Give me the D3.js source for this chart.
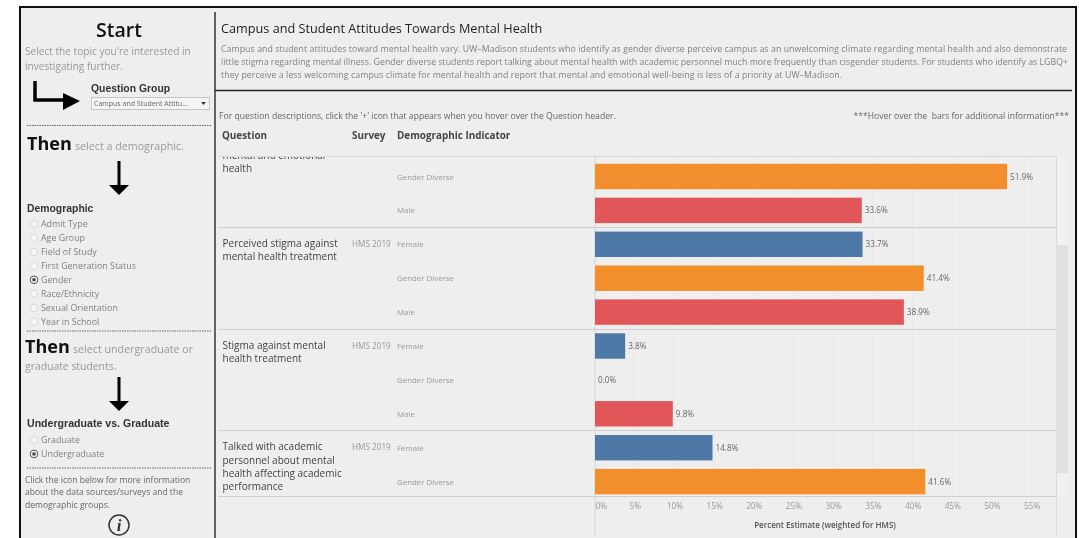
<!DOCTYPE html>
<html>
<head>
<meta charset="utf-8">
<script src="https://cdn.jsdelivr.net/npm/d3@7"></script>
<style>
  html, body { margin: 0; padding: 0; background: #fff; overflow: hidden; }
  text { font-family: "Open Sans", sans-serif; }
  svg { filter: blur(0.35px); }
</style>
</head>
<body>
<div id="chart"></div>
<script>
// Chart data
const rowKeys = ["r0", "r1", "r2", "r3", "r4", "r5", "r6", "r7", "r8", "r9"];
const indicators = ["Gender Diverse", "Male", "Female", "Gender Diverse", "Male", "Female", "Gender Diverse", "Male", "Female", "Gender Diverse"];
const percentValues = [51.9, 33.6, 33.7, 41.4, 38.9, 3.8, 0.0, 9.8, 14.8, 41.6];
const axisTicks = [0, 5, 10, 15, 20, 25, 30, 35, 40, 45, 50, 55];
const indicatorColors = { "Female": "#4e79a7", "Gender Diverse": "#f28e2b", "Male": "#e15759" };

// Question groups, firstRow is the index of the row each group starts on
const questionNames = [
    ["mental and emotional", "health"],
    ["Perceived stigma against", "mental health treatment"],
    ["Stigma against mental", "health treatment"],
    ["Talked with academic", "personnel about mental", "health affecting academic", "performance"]
];
const questionSurveys = ["", "HMS 2019", "HMS 2019", "HMS 2019"];
const questionFirstRows = [0, 2, 5, 8];

const demographicOptions = ["Admit Type", "Age Group", "Field of Study", "First Generation Status", "Gender", "Race/Ethnicity", "Sexual Orientation", "Year in School"];
const studentOptions = ["Graduate", "Undergraduate"];
const introLines = [
    "Campus and student attitudes toward mental health vary. UW\u2013Madison students who identify as gender diverse perceive campus as an unwelcoming climate regarding mental health and also demonstrate",
    "little stigma regarding mental illness. Gender diverse students report talking about mental health with academic personnel much more frequently than cisgender students. For students who identify as LGBQ+",
    "they perceive a less welcoming campus climate for mental health and report that mental and emotional well-being is less of a priority at UW\u2013Madison."
];
const introWidths = [846, 847, 621];

const width = 1079;
const height = 538;

const svg = d3.select("#chart")
    .append("svg")
    .attr("width", width)
    .attr("height", height)
    .style("display", "block");

// Dashboard background and frame
svg.append("rect")
    .attr("x", 20).attr("y", 7)
    .attr("width", 1056).attr("height", 540)
    .attr("fill", "#eeeeee")
    .attr("stroke", "#111")
    .attr("stroke-width", 2);

svg.append("line").attr("x1", 215).attr("x2", 215).attr("y1", 12).attr("y2", 538).attr("stroke", "#333").attr("stroke-width", 1.5);
svg.append("line").attr("x1", 215).attr("x2", 1072).attr("y1", 90.5).attr("y2", 90.5).attr("stroke", "#222").attr("stroke-width", 1.5);

function addText(parent, x, y, str, size, fill, weight, anchor) {
    return parent.append("text")
        .attr("x", x).attr("y", y)
        .attr("font-size", size)
        .attr("fill", fill)
        .attr("font-weight", weight || 400)
        .attr("text-anchor", anchor || "start")
        .text(str);
}

// Left control panel
const panel = svg.append("g");
addText(panel, 119, 37, "Start", 19.5, "#111", 600, "middle");
addText(panel, 25, 55, "Select the topic you're interested in", 10.1, "#999");
addText(panel, 25, 70, "investigating further.", 10.1, "#999");

// elbow arrow
panel.append("path")
    .attr("d", "M35 81V100H64")
    .attr("fill", "none").attr("stroke", "#000").attr("stroke-width", 3.5);
panel.append("path").attr("d", "M63 93L80 101L63 110Z").attr("fill", "#000");

addText(panel, 91, 92, "Question Group", 10.4, "#333", 600).style("font-family", "Liberation Sans, sans-serif");
panel.append("rect").attr("x", 91.5).attr("y", 97.5).attr("width", 118).attr("height", 12).attr("fill", "#f5f5f5").attr("stroke", "#c4c4c4");
addText(panel, 94, 106, "Campus and Student Attitu...", 7, "#666");
panel.append("path").attr("d", "M201 102H206L203.5 105Z").attr("fill", "#333");

function dashedRule(y) {
    panel.append("line").attr("x1", 27).attr("x2", 211).attr("y1", y).attr("y2", y)
        .attr("stroke", "#666").attr("stroke-dasharray", "1.5 1");
}
dashedRule(125.5);
dashedRule(331);
dashedRule(468);

addText(panel, 27, 150, "Then", 18, "#111", 700);
addText(panel, 75, 150, "select a demographic.", 10.7, "#999");

function downArrow(x, y0, y1) {
    panel.append("line").attr("x1", x).attr("x2", x).attr("y1", y0).attr("y2", y1 - 8).attr("stroke", "#000").attr("stroke-width", 3);
    panel.append("path").attr("d", `M${x - 10} ${y1 - 10}L${x + 10} ${y1 - 10}L${x} ${y1}Z`).attr("fill", "#000");
}
downArrow(119, 161, 195);
downArrow(119, 377, 411);

addText(panel, 27, 212, "Demographic", 10.4, "#333", 600).style("font-family", "Liberation Sans, sans-serif");

function radios(options, top, selected) {
    const y = d3.scalePoint().domain(options).range([top, top + (options.length - 1) * 13.95]);
    const items = panel.selectAll(null).data(options).enter().append("g")
        .attr("transform", d => `translate(0,${y(d)})`);
    items.append("circle").attr("cx", 34).attr("r", 3.8)
        .attr("fill", "#f5f5f5").attr("stroke", d => d === selected ? "#555" : "#d8d8d8");
    items.filter(d => d === selected).append("circle").attr("cx", 34).attr("r", 1.8).attr("fill", "#444");
    items.append("text").attr("x", 41).attr("y", 3).attr("font-size", 8.9).attr("fill", "#808080").text(d => d);
}
radios(demographicOptions, 224, "Gender");

addText(panel, 25, 353, "Then", 18, "#111", 700);
addText(panel, 73, 353, "select undergraduate or", 10.7, "#999");
addText(panel, 25, 370, "graduate students.", 10.4, "#999");

addText(panel, 27, 427, "Undergraduate vs. Graduate", 10.6, "#333", 600).style("font-family", "Liberation Sans, sans-serif");
radios(studentOptions, 440, "Undergraduate");

addText(panel, 25, 483, "Click the icon below for more information", 8.55, "#666");
addText(panel, 25, 495, "about the data sources/surveys and the", 8.55, "#666");
addText(panel, 25, 508, "demographic groups.", 8.55, "#666");
panel.append("circle").attr("cx", 119).attr("cy", 525).attr("r", 10).attr("fill", "none").attr("stroke", "#333").attr("stroke-width", 1.5);
addText(panel, 119, 531, "i", 17, "#333", 700, "middle").style("font-family", "Liberation Serif, serif").style("font-style", "italic");

// Title block
const head = svg.append("g");
addText(head, 221, 33, "Campus and Student Attitudes Towards Mental Health", 12.7, "#222", 400);
introLines.forEach((line, i) => addText(head, 221, 52 + i * 13, line, 8.75, "#808080").attr("textLength", introWidths[i]));
addText(head, 219, 119, "For question descriptions, click the '+' icon that appears when you hover over the Question header.", 8.63, "#666");
addText(head, 1069, 119, "***Hover over the  bars for additional information***", 8.58, "#666", 400, "end").style("white-space", "pre");
addText(head, 222, 139, "Question", 9.9, "#444", 700);
addText(head, 352, 139, "Survey", 9.9, "#444", 700);
addText(head, 397, 139, "Demographic Indicator", 9.9, "#444", 700);

// Scales
const x = d3.scaleLinear().domain([0, 55]).range([595, 1031.7]);
const y = d3.scaleBand().domain(rowKeys).range([159.55, 498.55]).paddingInner(0.25).paddingOuter(0.125);
const rowTop = i => y.range()[0] + i * y.step();

// Scrollbar
svg.append("rect").attr("x", 1057).attr("y", 156).attr("width", 11).attr("height", 340).attr("fill", "#f1f1f1");
svg.append("rect").attr("x", 1057).attr("y", 245).attr("width", 11).attr("height", 228).attr("fill", "#e0e0e0");

// Vertical grid lines
const plot = svg.append("g");
plot.selectAll(".grid").data(axisTicks.slice(1)).enter().append("line")
    .attr("x1", d => x(d)).attr("x2", d => x(d))
    .attr("y1", 156).attr("y2", 496)
    .attr("stroke", "#e8e8e8");

// Axis frame lines
plot.append("line").attr("x1", 595).attr("x2", 595).attr("y1", 156).attr("y2", 535).attr("stroke", "#d4d4d4");
plot.append("line").attr("x1", 1056.5).attr("x2", 1056.5).attr("y1", 156).attr("y2", 535).attr("stroke", "#dcdcdc");
plot.append("line").attr("x1", 218).attr("x2", 1056).attr("y1", 156.5).attr("y2", 156.5).attr("stroke", "#d8d8d8");
plot.append("line").attr("x1", 218).attr("x2", 1056).attr("y1", 496.5).attr("y2", 496.5).attr("stroke", "#cfcfcf");

// Group separators
plot.selectAll(".sep").data(questionFirstRows.slice(1)).enter().append("line")
    .attr("x1", 218).attr("x2", 1056)
    .attr("y1", d => Math.floor(rowTop(d)) + 0.5)
    .attr("y2", d => Math.floor(rowTop(d)) + 0.5)
    .attr("stroke", "#cfcfcf");

// Bars
plot.selectAll(".bar").data(percentValues).enter().append("rect")
    .attr("class", "bar")
    .attr("x", x(0))
    .attr("y", (d, i) => y(rowKeys[i]))
    .attr("width", d => x(d) - x(0))
    .attr("height", y.bandwidth())
    .attr("fill", (d, i) => indicatorColors[indicators[i]]);

// Bar labels
plot.selectAll(".bar-label").data(percentValues).enter().append("text")
    .attr("x", d => x(d) + 3)
    .attr("y", (d, i) => y(rowKeys[i]) + y.bandwidth() / 2 + 3)
    .attr("font-size", 8.2)
    .attr("fill", "#666")
    .text(d => d.toFixed(1) + "%");

// Indicator labels
plot.selectAll(".ind").data(indicators).enter().append("text")
    .attr("x", 397)
    .attr("y", (d, i) => y(rowKeys[i]) + y.bandwidth() / 2 + 3)
    .attr("font-size", 7.9)
    .attr("fill", "#999")
    .text(d => d);

// Question labels, clipped at the top of the scrolling pane
svg.append("clipPath").attr("id", "pane").append("rect")
    .attr("x", 218).attr("y", 157).attr("width", 840).attr("height", 340);
const groups = svg.append("g").attr("clip-path", "url(#pane)");
questionNames.forEach((lines, q) => {
    const firstRow = questionFirstRows[q];
    const baseline = q === 0 ? 172 : rowTop(firstRow) + 19.5;
    lines.forEach((line, i) => {
        const offset = q === 0 ? (i - 1) * 13.3 : i * 13.3;
        addText(groups, 222.5, baseline + offset, line, 10, "#444");
    });
    if (questionSurveys[q]) {
        addText(groups, 352, rowTop(firstRow) + 19.5, questionSurveys[q], 8.2, "#999");
    }
});

// Bottom axis
const axis = svg.append("g")
    .attr("transform", "translate(0,497)")
    .call(d3.axisBottom(x).tickValues(axisTicks).tickSize(0).tickPadding(6).tickFormat(d => d + "%"));
axis.select(".domain").remove();
axis.selectAll("text").attr("font-size", 8.3).attr("fill", "#999").style("font-family", "\"Open Sans\", sans-serif");
axis.selectAll("text").filter(d => d === 0).attr("text-anchor", "start");

addText(svg, 825, 528, "Percent Estimate (weighted for HMS)", 8, "#555", 600, "middle");
</script>
</body>
</html>
